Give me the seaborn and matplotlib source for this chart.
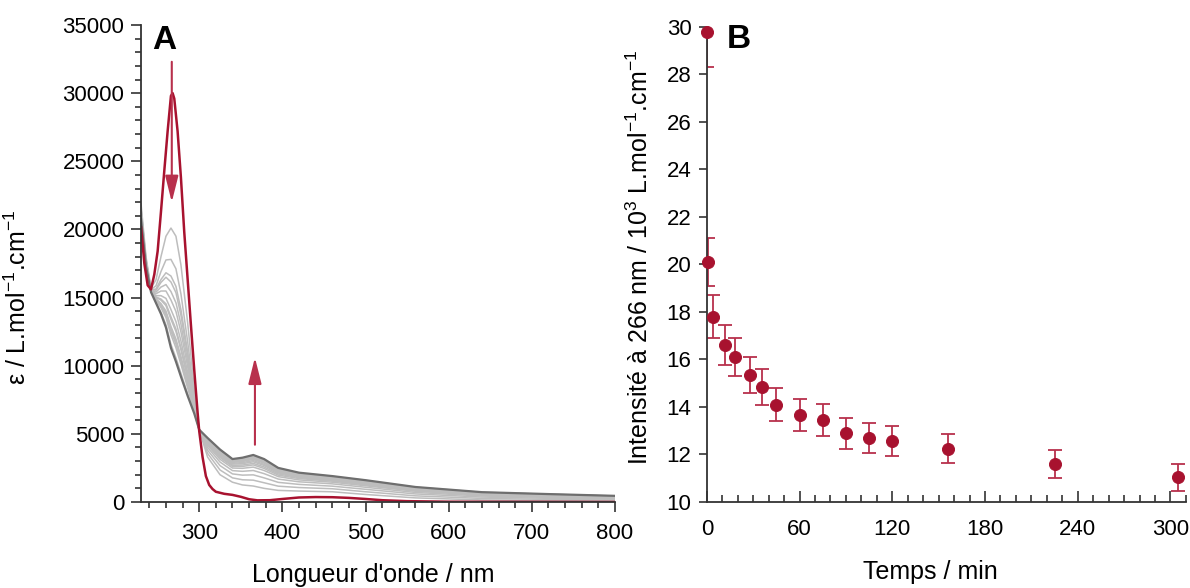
import pandas as pd
import matplotlib
matplotlib.use('Agg')
import matplotlib.pyplot as plt
import seaborn as sns
from matplotlib.ticker import MultipleLocator

# --- A : spectres UV-visible (epsilon en L.mol-1.cm-1) ---
wl_red = [230, 234, 238, 242, 246, 250, 254, 258, 262, 266, 268, 270, 274, 278, 282, 286,
          290, 294, 298, 300, 304, 308, 312, 316, 320, 330, 340, 350, 360, 370, 385, 400,
          420, 440, 460, 480, 500, 520, 550, 600, 700, 800]
eps_red = [20200, 17500, 15900, 15600, 16700, 18400, 21300, 24300, 27200, 29800, 30000, 29600,
           27200, 23800, 19800, 16400, 13000, 9700, 6600, 5200, 3300, 1900, 1250, 950, 750,
           600, 520, 380, 200, 120, 130, 220, 330, 360, 350, 300, 220, 130, 60, 20, 10, 0]

wl_grey = [230, 236, 242, 248, 254, 260, 266, 272, 278, 286, 294, 300, 310, 325, 340, 352,
           365, 378, 395, 420, 460, 500, 560, 640, 720, 800]
eps_g01 = [21900, 18000, 15700, 16300, 18000, 19500, 20100, 19500, 17400, 13200, 8300, 5300,
           3300, 2000, 1450, 1250, 1170, 1000, 850, 800, 750, 550, 300, 150, 100, 70]
eps_g02 = [21600, 17800, 15600, 15860, 16910, 17760, 17800, 17110, 15270, 11800, 7830, 5300,
           3570, 2350, 1770, 1630, 1600, 1410, 1160, 1060, 970, 750, 450, 260, 190, 140]
eps_g03 = [21460, 17720, 15580, 15620, 16320, 16820, 16580, 15820, 14120, 11040, 7580, 5300,
           3800, 2670, 2060, 1970, 1990, 1770, 1440, 1290, 1160, 930, 590, 360, 270, 210]
eps_g04 = [21400, 17690, 15570, 15540, 16110, 16490, 16140, 15360, 13710, 10770, 7490, 5300,
           4000, 2930, 2300, 2250, 2310, 2080, 1680, 1480, 1330, 1080, 700, 440, 340, 260]
eps_g05 = [21320, 17630, 15540, 15400, 15770, 15950, 15440, 14620, 13050, 10340, 7350, 5300,
           4150, 3130, 2490, 2470, 2560, 2310, 1860, 1620, 1450, 1190, 790, 500, 390, 300]
eps_g06 = [21240, 17580, 15520, 15280, 15480, 15480, 14820, 13980, 12480, 9960, 7220, 5300,
           4250, 3260, 2610, 2610, 2720, 2460, 1970, 1720, 1530, 1260, 840, 540, 430, 330]
eps_g07 = [21150, 17520, 15500, 15140, 15140, 14940, 14120, 13240, 11820, 9530, 7080, 5300,
           4320, 3350, 2690, 2710, 2830, 2570, 2060, 1790, 1590, 1320, 880, 570, 450, 350]
eps_g08 = [21090, 17480, 15480, 15040, 14890, 14540, 13590, 12690, 11330, 9200, 6970, 5300,
           4390, 3440, 2780, 2810, 2950, 2680, 2140, 1850, 1650, 1370, 920, 600, 470, 370]
eps_g09 = [21060, 17470, 15470, 15010, 14810, 14410, 13410, 12510, 11170, 9100, 6930, 5300,
           4450, 3520, 2840, 2890, 3040, 2760, 2200, 1910, 1690, 1410, 960, 620, 490, 380]
eps_g10 = [21000, 17430, 15450, 14910, 14560, 14010, 12880, 11960, 10680, 8770, 6820, 5300,
           4500, 3590, 2910, 2970, 3130, 2850, 2270, 1960, 1740, 1450, 990, 640, 510, 400]
eps_g11 = [20980, 17410, 15450, 14870, 14470, 13870, 12710, 11770, 10510, 8660, 6790, 5300,
           4550, 3650, 2960, 3030, 3200, 2910, 2320, 2000, 1770, 1490, 1010, 660, 530, 410]
eps_g12 = [20950, 17400, 15440, 14840, 14390, 13740, 12530, 11590, 10350, 8560, 6750, 5300,
           4590, 3700, 3010, 3090, 3270, 2980, 2370, 2040, 1810, 1520, 1040, 670, 540, 420]
eps_g13 = [20920, 17380, 15430, 14790, 14260, 13540, 12270, 11310, 10100, 8390, 6700, 5300,
           4630, 3760, 3070, 3150, 3340, 3040, 2420, 2080, 1840, 1550, 1060, 690, 560, 430]
eps_g14 = [20830, 17320, 15410, 14650, 13930, 13000, 11560, 10580, 9450, 7960, 6550, 5300,
           4670, 3810, 3120, 3210, 3400, 3110, 2470, 2120, 1880, 1580, 1080, 710, 570, 440]
eps_final = [20800, 17300, 15400, 14600, 13800, 12800, 11300, 10300, 9200, 7800, 6500, 5300,
             4700, 3850, 3150, 3250, 3450, 3150, 2500, 2150, 1900, 1600, 1100, 720, 580, 450]

# --- B : intensite a 266 nm en fonction du temps ---
temps = [0, 1, 4, 12, 18, 28, 36, 45, 60, 75, 90, 105, 120, 156, 225, 305]
intensite = [29.8, 20.1, 17.8, 16.6, 16.1, 15.35, 14.85, 14.1, 13.65, 13.45, 12.9, 12.7,
             12.55, 12.25, 11.6, 11.05]
erreur = [1.5, 1.0, 0.9, 0.84, 0.8, 0.77, 0.75, 0.71, 0.68, 0.66, 0.65, 0.64, 0.63, 0.61,
          0.6, 0.57]

RED = '#a8122f'
RED_ARROW = '#b8304c'
LIGHT = '#bdbdbd'
DARK = '#6e6e6e'

sns.set_theme(style='ticks')
plt.rcParams['font.family'] = ['Liberation Sans', 'DejaVu Sans']
plt.rcParams['mathtext.fontset'] = 'custom'
plt.rcParams['mathtext.rm'] = 'Liberation Sans'
plt.rcParams['mathtext.default'] = 'regular'
plt.rcParams['axes.edgecolor'] = '#333333'
plt.rcParams['text.color'] = 'black'
plt.rcParams['axes.labelcolor'] = 'black'
plt.rcParams['xtick.labelcolor'] = 'black'
plt.rcParams['ytick.labelcolor'] = 'black'

grey_curves = [eps_g01, eps_g02, eps_g03, eps_g04, eps_g05, eps_g06, eps_g07, eps_g08,
               eps_g09, eps_g10, eps_g11, eps_g12, eps_g13, eps_g14]
grey = pd.concat([pd.DataFrame({'wl': wl_grey, 'eps': c, 'courbe': i})
                  for i, c in enumerate(grey_curves)])

fig = plt.figure(figsize=(11.9, 5.88), dpi=100)
axA = fig.add_axes([0.1185, 0.1463, 0.3983, 0.8112])
axB = fig.add_axes([0.594, 0.1463, 0.4026, 0.8078])

# panel A
sns.lineplot(data=grey, x='wl', y='eps', units='courbe', estimator=None, sort=False,
             color=LIGHT, lw=1.1, ax=axA)
sns.lineplot(x=wl_grey, y=eps_final, color=DARK, lw=1.6, sort=False, ax=axA)
sns.lineplot(x=wl_red, y=eps_red, color=RED, lw=1.8, sort=False, ax=axA)

arrow = dict(arrowstyle='-|>,head_length=0.8,head_width=0.2', color=RED_ARROW, lw=1.5,
             mutation_scale=20, shrinkA=0, shrinkB=0)
axA.annotate('', xy=(267, 22000), xytext=(267, 32300), arrowprops=arrow)
axA.annotate('', xy=(367, 10600), xytext=(367, 4200), arrowprops=arrow)

axA.set_xlim(230, 800)
axA.set_ylim(0, 35000)
axA.xaxis.set_major_locator(MultipleLocator(100))
axA.xaxis.set_minor_locator(MultipleLocator(20))
axA.yaxis.set_major_locator(MultipleLocator(5000))
axA.yaxis.set_minor_locator(MultipleLocator(1000))
axA.tick_params(which='both', direction='out', labelsize=16, width=1.2, color='#333333')
axA.tick_params(which='major', length=7)
axA.tick_params(which='minor', length=4)
axA.tick_params(axis='x', pad=8)
axA.tick_params(axis='y', pad=5)
axA.set_xlabel("Longueur d'onde / nm", fontsize=18)
axA.set_ylabel('ε / L.mol$^{-1}$.cm$^{-1}$', fontsize=18)
axA.xaxis.set_label_coords(0.49, -0.128)
axA.yaxis.set_label_coords(-0.232, 0.43)
axA.text(0.05, 0.968, 'A', transform=axA.transAxes, fontsize=24, fontweight='bold',
         ha='center', va='center')

# panel B
axB.errorbar(temps, intensite, yerr=erreur, fmt='none', ecolor=RED_ARROW, elinewidth=1.3,
             capsize=5, capthick=1.3, zorder=2)
sns.scatterplot(x=temps, y=intensite, color=RED, edgecolor=RED, s=75, zorder=3,
                clip_on=False, ax=axB)
axB.set_xlim(0, 310)
axB.set_ylim(10, 30)
axB.xaxis.set_major_locator(MultipleLocator(60))
axB.xaxis.set_minor_locator(MultipleLocator(10))
axB.yaxis.set_major_locator(MultipleLocator(2))
axB.tick_params(which='both', labelsize=16, width=1.2, color='#333333')
axB.tick_params(axis='x', which='major', direction='in', length=8, pad=12)
axB.tick_params(axis='x', which='minor', direction='in', length=5)
axB.tick_params(axis='y', direction='out', length=6, pad=5)
axB.set_xlabel('Temps / min', fontsize=18)
axB.set_ylabel('Intensité à 266 nm / 10$^{3}$ L.mol$^{-1}$.cm$^{-1}$', fontsize=18)
axB.xaxis.set_label_coords(0.466, -0.122)
axB.yaxis.set_label_coords(-0.113, 0.516)
axB.text(0.067, 0.973, 'B', transform=axB.transAxes, fontsize=24, fontweight='bold',
         ha='center', va='center')

for ax in (axA, axB):
    sns.despine(ax=ax)
    for s in ('left', 'bottom'):
        ax.spines[s].set_linewidth(1.3)

fig.savefig('out.png', dpi=100)
